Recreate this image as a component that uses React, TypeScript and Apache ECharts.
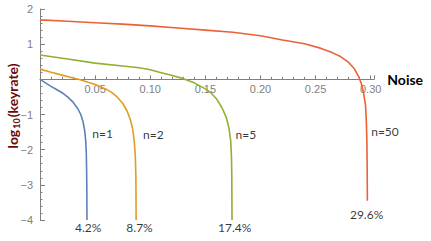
import React, { useEffect, useRef } from "react";
import * as echarts from "echarts";

// n = 1
const n1Noise = [0, 0.005, 0.01, 0.015, 0.02, 0.025, 0.03, 0.034, 0.037, 0.039, 0.0405, 0.0415, 0.042, 0.0423, 0.0425, 0.0426];
const n1Log = [0, -0.1, -0.2, -0.29, -0.38, -0.5, -0.65, -0.82, -1.0, -1.2, -1.45, -1.75, -2.1, -2.6, -3.2, -4];
// n = 2
const n2Noise = [0, 0.01, 0.02, 0.03, 0.035, 0.04, 0.05, 0.06, 0.065, 0.07, 0.075, 0.079, 0.082, 0.084, 0.0855, 0.0865, 0.087, 0.0872];
const n2Log = [0.29, 0.2, 0.12, 0.04, 0.0, -0.05, -0.15, -0.28, -0.37, -0.5, -0.68, -0.9, -1.15, -1.4, -1.75, -2.2, -2.8, -4];
// n = 5
const n5Noise = [0, 0.025, 0.05, 0.075, 0.09, 0.1, 0.11, 0.12, 0.13, 0.14, 0.15, 0.155, 0.16, 0.165, 0.169, 0.1715, 0.173, 0.1737, 0.174, 0.1742];
const n5Log = [0.69, 0.58, 0.46, 0.38, 0.33, 0.27, 0.19, 0.11, 0.02, -0.1, -0.27, -0.38, -0.55, -0.8, -1.08, -1.4, -1.75, -2.2, -2.8, -4];
// n = 50
const n50Noise = [0, 0.025, 0.05, 0.075, 0.1, 0.125, 0.15, 0.175, 0.2, 0.22, 0.24, 0.255, 0.265, 0.273, 0.28, 0.285, 0.289, 0.2915, 0.2935, 0.2953, 0.296, 0.2965, 0.2968, 0.297];
const n50Log = [1.69, 1.65, 1.61, 1.57, 1.52, 1.46, 1.4, 1.34, 1.24, 1.12, 1.01, 0.88, 0.76, 0.64, 0.48, 0.31, 0.08, -0.12, -0.38, -0.73, -1.16, -1.7, -2.5, -3.45];

const curveNames = ["n=1", "n=2", "n=5", "n=50"];
const thresholdLabels = ["4.2%", "8.7%", "17.4%", "29.6%"];
const colors = ["#5E81B5", "#E19C24", "#8FB032", "#EB6235"];

// annotation anchors in data space
const nameAnchorX = [0.047, 0.093, 0.177, 0.3];
const nameAnchorY = [-1.55, -1.57, -1.57, -1.47];
const pctAnchorX = [0.0437, 0.0903, 0.1766, 0.2963];
const pctAnchorY = [-4.22, -4.22, -4.22, -3.83];

const xMin = 0;
const xMax = 0.303;
const yMin = -4;
const yMax = 2;
const xTickInterval = 0.05;
const yTickInterval = 1;

const labelFont = "Lato, 'Open Sans', sans-serif";
const tickFont = "'Liberation Sans', Arial, sans-serif";
const axisGray = "#808080";

const GRID = { left: 40, right: 57, top: 9, bottom: 21 };
const CHART_H = 241;

function zip(xs: number[], ys: number[]) {
  return xs.map((x, i) => [x, ys[i]]);
}

export default function App() {
  const ref = useRef<HTMLDivElement>(null);
  useEffect(() => {
    if (!ref.current) return;
    const chart = echarts.init(ref.current, undefined, { renderer: "svg" });
    const gridH = CHART_H - GRID.top - GRID.bottom;
    // move the x axis up to y = 0
    const xAxisOffset = -gridH * (0 - yMin) / (yMax - yMin);
    const curves = [
      zip(n1Noise, n1Log),
      zip(n2Noise, n2Log),
      zip(n5Noise, n5Log),
      zip(n50Noise, n50Log),
    ];
    const lineSeries = curves.map((d, i) => ({
      type: "line",
      name: curveNames[i],
      data: d,
      showSymbol: false,
      symbol: "none",
      smooth: false,
      clip: false,
      lineStyle: { color: colors[i], width: 1.6 },
      itemStyle: { color: colors[i] },
      z: 3,
    }));
    const nameSeries = {
      type: "scatter",
      silent: true,
      clip: false,
      symbolSize: 1,
      itemStyle: { color: "transparent" },
      data: curveNames.map((n, i) => ({ name: n, value: [nameAnchorX[i], nameAnchorY[i]] })),
      label: {
        show: true,
        formatter: "{b}",
        position: "right",
        distance: 0,
        color: "#000",
        fontFamily: labelFont,
        fontSize: 12,
      },
      z: 5,
    };
    const pctSeries = {
      type: "scatter",
      silent: true,
      clip: false,
      symbolSize: 1,
      itemStyle: { color: "transparent" },
      data: thresholdLabels.map((n, i) => ({ name: n, value: [pctAnchorX[i], pctAnchorY[i]] })),
      label: {
        show: true,
        formatter: "{b}",
        position: "inside",
        color: "#000",
        fontFamily: labelFont,
        fontSize: 12,
      },
      z: 5,
    };
    chart.setOption({
      animation: false,
      grid: { ...GRID, containLabel: false },
      xAxis: {
        type: "value",
        min: xMin,
        max: xMax,
        interval: xTickInterval,
        position: "bottom",
        offset: xAxisOffset,
        name: "Noise",
        nameLocation: "end",
        nameGap: 11,
        nameTextStyle: { color: "#000", fontWeight: "bold", fontSize: 14, fontFamily: labelFont, verticalAlign: "middle" },
        axisLine: { show: true, onZero: false, lineStyle: { color: axisGray, width: 1 } },
        axisTick: { show: true, inside: true, length: 4, lineStyle: { color: axisGray } },
        minorTick: { show: true, splitNumber: 5, length: 2.5, lineStyle: { color: axisGray } },
        splitLine: { show: false },
        axisLabel: {
          margin: 4,
          color: axisGray,
          fontSize: 11,
          fontFamily: tickFont,
          showMaxLabel: false,
          formatter: (v: number) => {
            const k = v / xTickInterval;
            if (v === 0 || Math.abs(k - Math.round(k)) > 1e-6) return "";
            return v.toFixed(2);
          },
        },
      },
      yAxis: {
        type: "value",
        min: yMin,
        max: yMax,
        interval: yTickInterval,
        axisLine: { show: true, onZero: false, lineStyle: { color: axisGray, width: 1 } },
        axisTick: { show: true, inside: true, length: 5, lineStyle: { color: axisGray } },
        minorTick: { show: true, splitNumber: 5, length: 2.5, lineStyle: { color: axisGray } },
        splitLine: { show: false },
        axisLabel: {
          margin: 7,
          color: axisGray,
          fontSize: 11,
          fontFamily: tickFont,
          formatter: (v: number) => (v === 0 ? "" : String(v).replace("-", "\u2212")),
        },
      },
      graphic: [
        {
          type: "text",
          x: 12,
          y: 106,
          rotation: Math.PI / 2,
          style: {
            text: "{a|log}{b|10}{a|(keyrate)}",
            align: "center",
            verticalAlign: "middle",
            rich: {
              a: { fontSize: 14, fontWeight: "bold", fontFamily: labelFont, fill: "#6a0a0a", lineHeight: 18, verticalAlign: "middle" },
              b: { fontSize: 9, fontWeight: "bold", fontFamily: labelFont, fill: "#6a0a0a", lineHeight: 18, padding: [9, 1, 0, 1], verticalAlign: "bottom" },
            },
          },
        },
      ],
      series: [...lineSeries, nameSeries, pctSeries],
    });
    return () => chart.dispose();
  }, []);
  return (
    <div
      ref={ref}
      style={{ position: "fixed", left: 0, top: 0, width: 431, height: CHART_H, background: "#fff" }}
    />
  );
}
